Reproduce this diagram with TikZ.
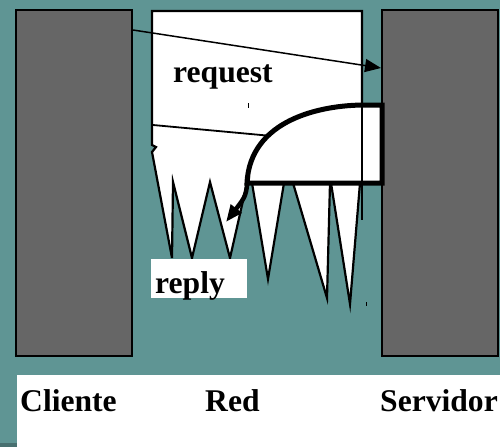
\documentclass[tikz,border=0pt]{standalone}
\usepackage{fontspec}
\setmainfont{Liberation Serif}
\usetikzlibrary{arrows.meta}
\definecolor{sea}{RGB}{95,149,148}
\definecolor{seadark}{RGB}{72,112,112}
\definecolor{host}{RGB}{102,102,102}
\tikzset{
  hostbox/.style={draw=black,line width=2pt,fill=host,inner sep=0pt,minimum width=116pt,minimum height=346pt},
  label/.style={font=\bfseries\fontsize{31.6}{37}\selectfont,inner sep=0pt,anchor=base west},
  thin/.style={draw=black,line width=2.2pt,line join=miter},
  heavy/.style={draw=black,line width=5pt,line join=miter},
}
\begin{document}
\begin{tikzpicture}[x=1pt,y=-1pt]
\useasboundingbox (0,0) rectangle (500,447);
% background
\fill[sea] (0,0) rectangle (500,447);
\fill[seadark] (0,443) rectangle (17,447);
\fill[white] (17,375) rectangle (500,447);

% end hosts
\node[hostbox] (client) at (74,183) {};
\node[hostbox] (server) at (440,183) {};

% network cloud with jagged bottom
\path[thin,fill=white] (152,11) -- (362,11) -- (362,183) -- (360,183)
  -- (350,304) -- (331,183) -- (330,183) -- (327,298) -- (293,183)
  -- (284,183) -- (268,279) -- (252,183) -- (247,183) -- (230,258)
  -- (210,182) -- (192,258) -- (173,182) -- (172,258) -- (152,152)
  -- (156,147) -- (152,145) -- cycle;
\node[coordinate] (netbr) at (362,220) {};
\draw[thin] (362,183) -- (netbr);

% request message
\draw[line width=1.5pt,-{Triangle[length=16pt,width=13pt]}]
  (client.east |- 0,30) -- (server.west |- 0,68);
\node[label] (request) at (173,82) {request};

% reply path
\coordinate (replystart) at (153,125);
\coordinate (replyend) at (272,136);
\draw[line width=1.8pt] (replystart) -- (replyend);

% server response region
\path[heavy,fill=white] (247,183) .. controls (250,120) and (320,105) .. (365,105)
  -- (382,105) -- (382,183) -- cycle;
\draw[thin] (362,105) -- (362,183);
\coordinate (turnstart) at (248,176);
\coordinate (turnend) at (226,222);
\draw[line width=4.5pt,-{Triangle[length=17pt,width=13pt]}]
  (turnstart) .. controls (246,196) .. (turnend);

% small marks
\draw[line width=1pt] (248,103) -- (248,108);
\draw[line width=1pt] (366,302) -- (366,306);

% reply label
\fill[white] (151,259) rectangle (247,298);
\node[label] (reply) at (155,293) {reply};

% captions
\node[label] (cliente) at (20,411) {Cliente};
\node[label] (red) at (205,411) {Red};
\node[label] (servidor) at (380,411) {Servidor};
\end{tikzpicture}
\end{document}
